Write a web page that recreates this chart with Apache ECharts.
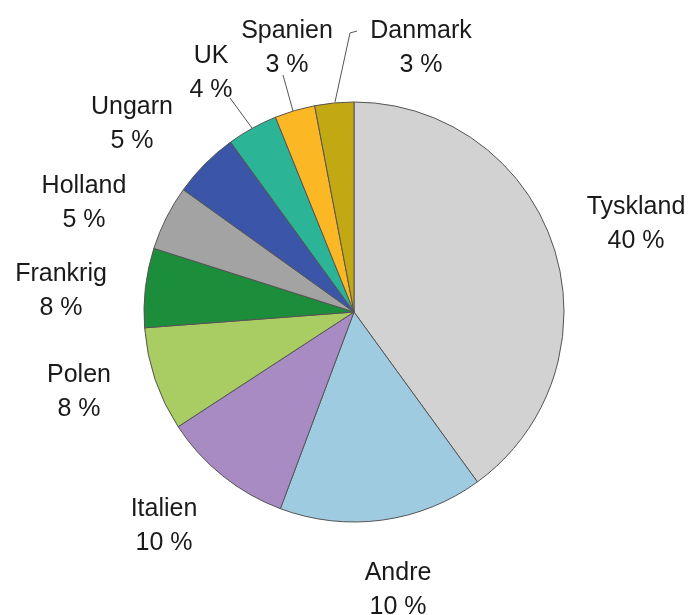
<!DOCTYPE html>
<html>
<head>
<meta charset="utf-8">
<script src="https://cdn.jsdelivr.net/npm/echarts@6/dist/echarts.min.js"></script>
<style>
  html, body { margin: 0; padding: 0; background: #fff; }
  #pie { width: 693px; height: 615px; }
</style>
</head>
<body>
<div id="pie"></div>
<script>
// lande og andele (slice-størrelser)
const lande = ['Tyskland', 'Andre', 'Italien', 'Polen', 'Frankrig', 'Holland', 'Ungarn', 'UK', 'Spanien', 'Danmark']
const andele = [40.0, 15.7, 10.1, 8.0, 6.1, 5.0, 5.1, 3.9, 3.1, 3.0]
// procent-tekster som de står i figuren
const procentTekst = ['40 %', '10 %', '10 %', '8 %', '8 %', '5 %', '5 %', '4 %', '3 %', '3 %']

const farver = ['#d2d2d2', '#9ecbe0', '#a98bc4', '#a9cc63', '#1c8d3a', '#a3a3a3', '#3b55a8', '#2bb596', '#fcb824', '#c2a812']

// placering af etiketter (midtpunkt) og evt. henvisningslinje
const etiketPos = [
  [636, 224], [398, 590], [164, 526], [79, 392], [61, 291],
  [84, 203], [132, 124], [211, 73], [287, 48], [421, 48]
]
const linjer = {
  7: [[252, 128], [230, 98], [230, 98]],
  8: [[293, 111], [283, 75], [283, 75]],
  9: [[335, 102], [350, 33], [357, 31]]
}

const myChart = echarts.init(document.querySelector('#pie'))
const option = {
  backgroundColor: '#fff',
  animation: false,
  color: farver,
  series: [
    {
      type: 'pie',
      center: [354, 312],
      radius: 210,
      startAngle: 90,
      clockwise: true,
      avoidLabelOverlap: false,
      itemStyle: {
        borderColor: '#555',
        borderWidth: 1
      },
      label: {
        show: true,
        position: 'outside',
        color: '#1a1a1a',
        fontFamily: 'Liberation Sans, Arial, sans-serif',
        fontSize: 25,
        lineHeight: 34,
        align: 'center',
        formatter: p => p.name + '\n' + procentTekst[p.dataIndex]
      },
      labelLine: {
        show: true,
        lineStyle: { color: '#555', width: 1 }
      },
      labelLayout: params => {
        const i = params.dataIndex
        const res = {
          x: etiketPos[i][0],
          y: etiketPos[i][1],
          align: 'center',
          verticalAlign: 'middle'
        }
        if (linjer[i]) res.labelLinePoints = linjer[i]
        return res
      },
      emphasis: { disabled: true },
      data: lande.map((navn, i) => ({
        name: navn,
        value: andele[i],
        labelLine: { show: !!linjer[i] }
      }))
    }
  ]
}
myChart.setOption(option)
</script>
</body>
</html>
